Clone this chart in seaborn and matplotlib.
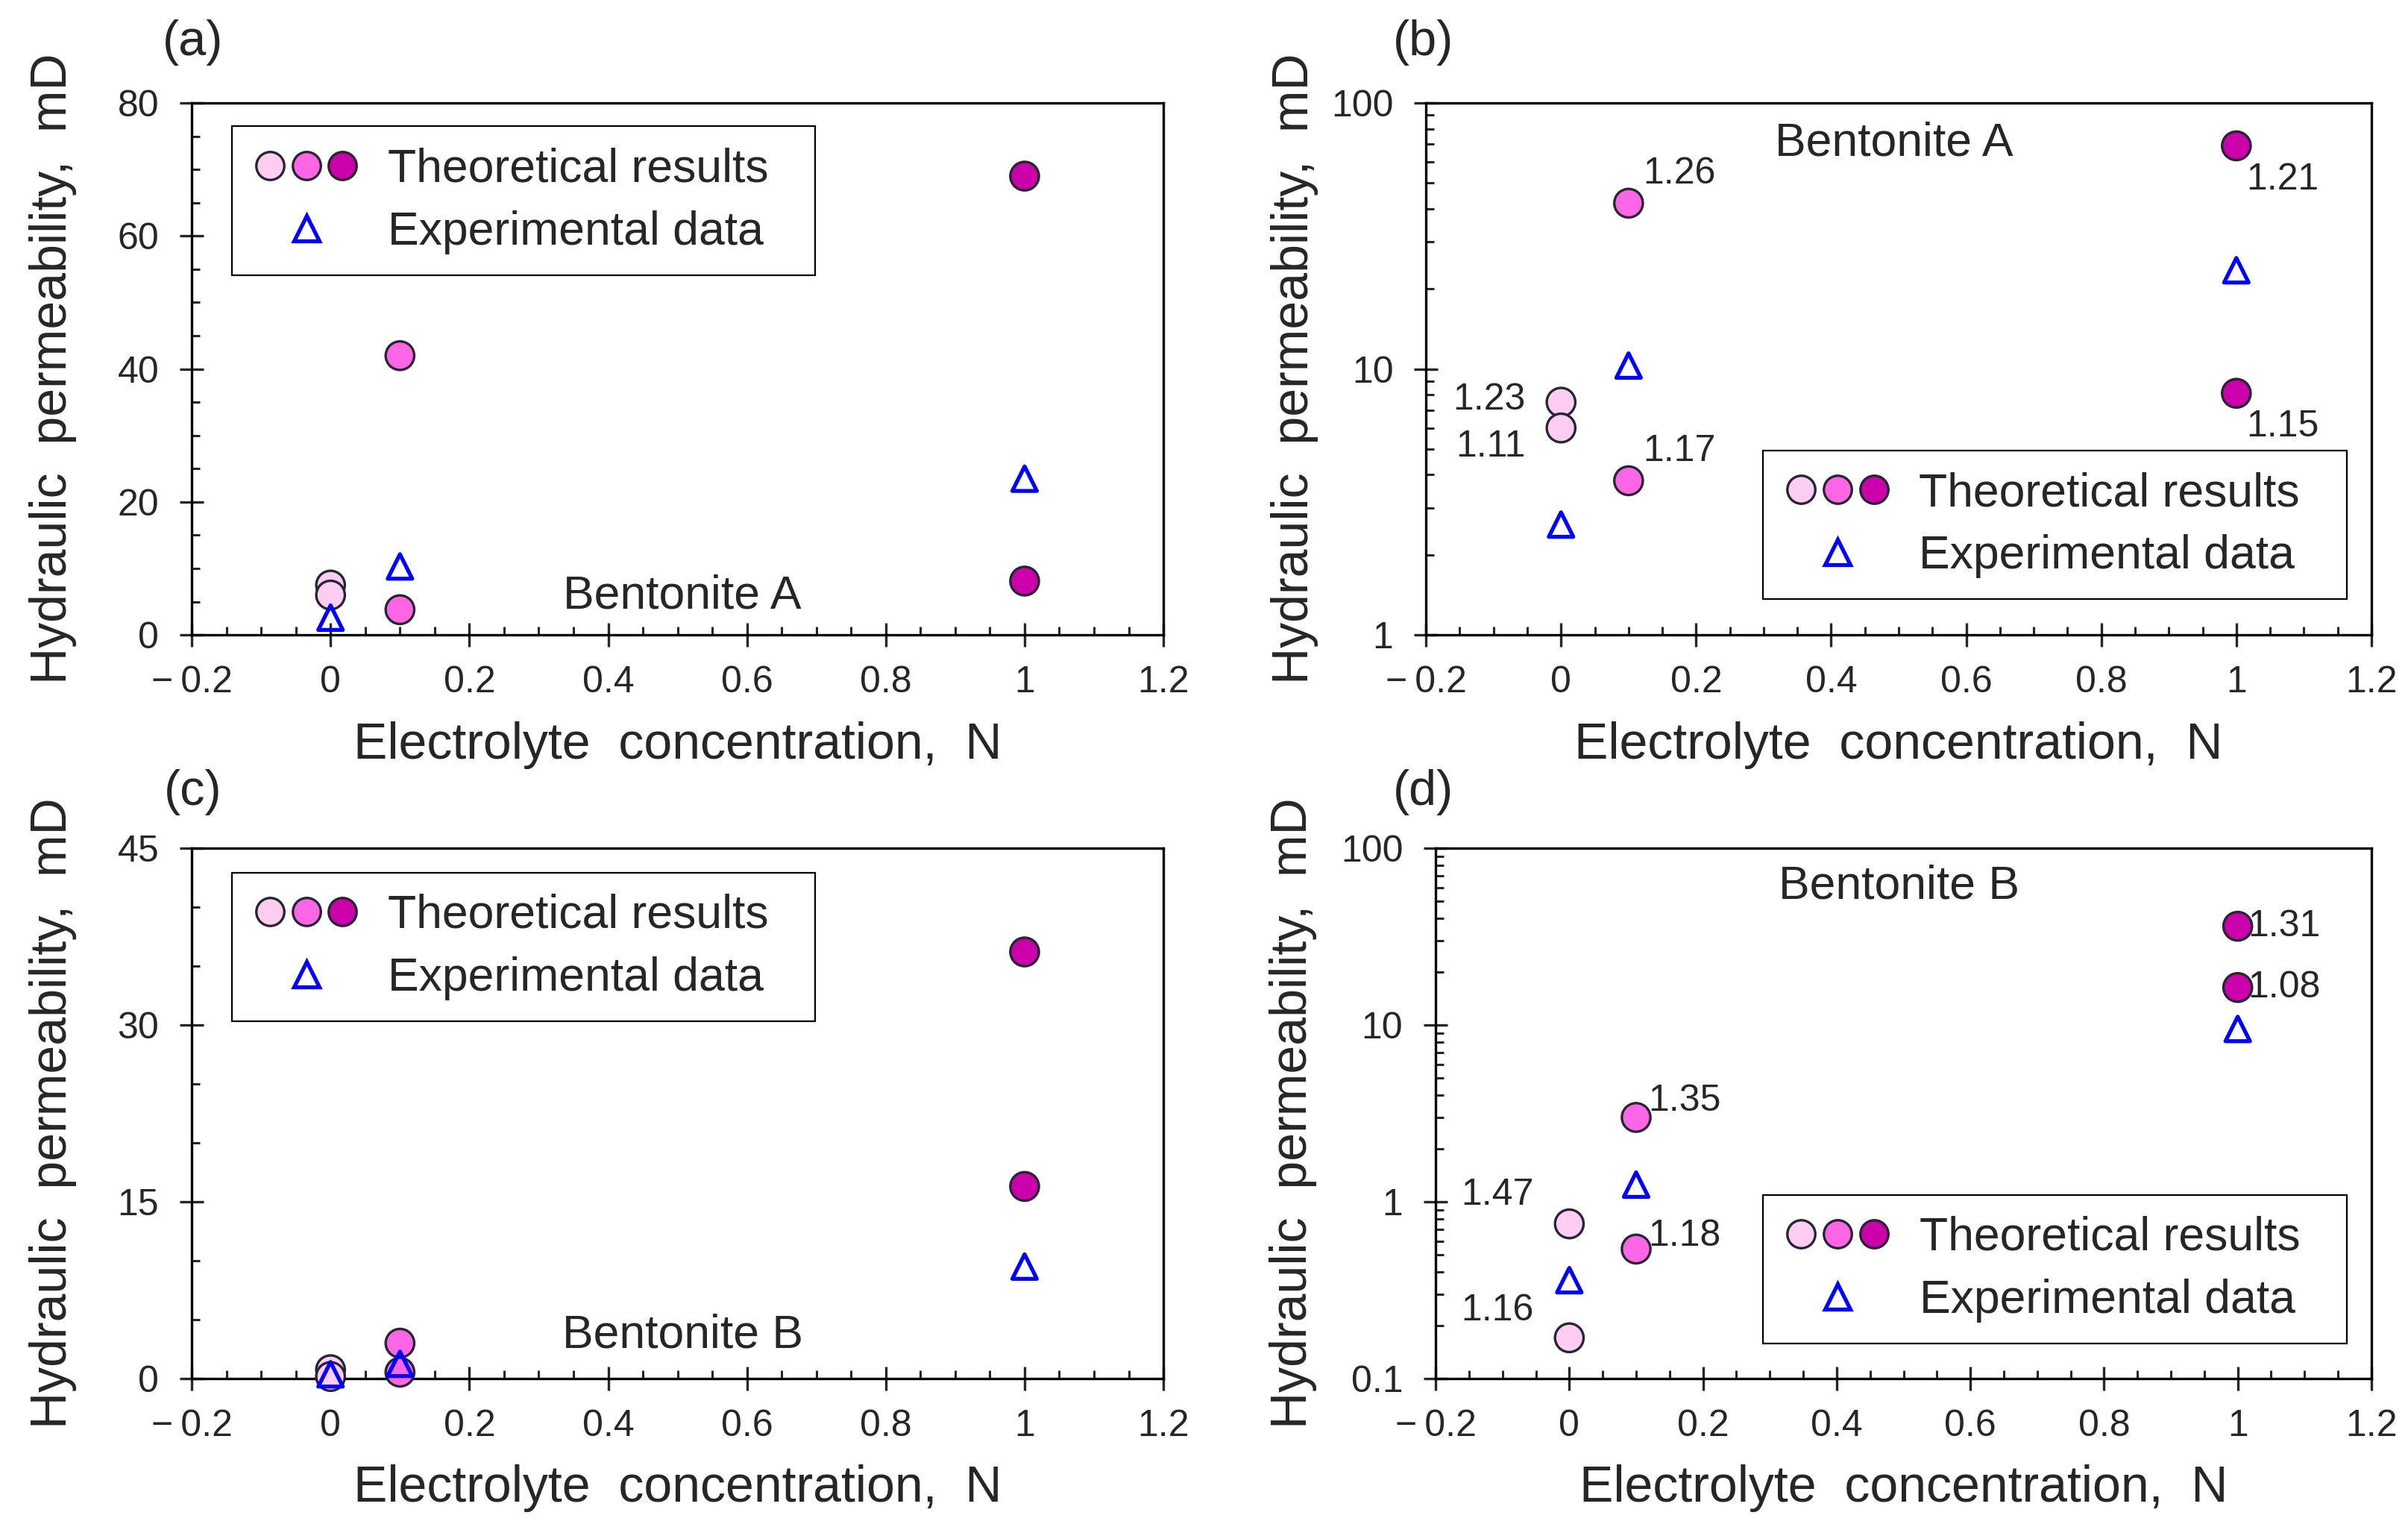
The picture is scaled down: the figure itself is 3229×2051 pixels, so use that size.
import numpy as np
import pandas as pd
import seaborn as sns
import matplotlib.pyplot as plt
from matplotlib.lines import Line2D
from matplotlib.legend_handler import HandlerTuple
from matplotlib.ticker import MultipleLocator, LogLocator, FuncFormatter

sns.set_style("white")
plt.rcParams['font.family'] = ['Liberation Sans', 'DejaVu Sans']

# electrolyte concentrations (N)
conc = [0.0, 0.0, 0.1, 0.1, 1.0, 1.0]
conc_exp = [0.0, 0.1, 1.0]

# bentonite A: theoretical results and exponent labels
theory_A = [7.5, 6.0, 42.0, 3.8, 69.0, 8.1]
labels_A = ['1.23', '1.11', '1.26', '1.17', '1.21', '1.15']
exp_A = [2.6, 10.3, 23.5]

# bentonite B
theory_B = [0.75, 0.17, 3.0, 0.54, 36.2, 16.3]
labels_B = ['1.47', '1.16', '1.35', '1.18', '1.31', '1.08']
exp_B = [0.36, 1.25, 9.5]

colors = {0.0: '#FFCCF2', 0.1: '#FF66E6', 1.0: '#CC00AA'}
edge = '#262633'
tri_color = '#0000FF'

# label offsets (points) for the log panels
offs_A = [(-34, 2), (-34, -2), (14, 12), (14, 12), (10, -16), (10, -16)]
va_A = ['center', 'top', 'bottom', 'bottom', 'top', 'top']
ha_A = ['right', 'right', 'left', 'left', 'left', 'left']
offs_B = [(-34, 28), (-34, 26), (12, -1), (12, -4), (10, 0), (10, 0)]
va_B = ['center', 'center', 'bottom', 'bottom', 'center', 'center']
ha_B = ['right', 'right', 'left', 'left', 'left', 'left']

fig = plt.figure(figsize=(32.3, 20.51), dpi=100)
pos = {'a': [0.0796, 0.585, 0.4034, 0.3477],
       'b': [0.592, 0.585, 0.3925, 0.3477],
       'c': [0.0796, 0.099, 0.4034, 0.3466],
       'd': [0.596, 0.099, 0.3885, 0.3466]}


def draw(key, theory, expd, logy, ylim, ystep=None, labels=None, offs=None, has=None, vas=None,
         bent='', bent_xy=(0.5, 0.07), leg_loc='upper left', leg_anchor=(0.04, 0.956), ylab_x=-0.118):
    ax = fig.add_axes(pos[key])
    df = pd.DataFrame({'x': conc, 'y': theory})
    sns.scatterplot(data=df, x='x', y='y', hue='x', palette=colors, s=760,
                    edgecolor=edge, linewidth=2.4, legend=False, ax=ax, zorder=4,
                    clip_on=False)
    de = pd.DataFrame({'x': conc_exp, 'y': expd})
    sns.scatterplot(data=de, x='x', y='y', marker='^', s=560, facecolor='none',
                    edgecolor=tri_color, linewidth=3.8, ax=ax, zorder=5, clip_on=False)
    if logy:
        ax.set_yscale('log')
        ax.yaxis.set_major_locator(LogLocator(base=10))
        ax.yaxis.set_minor_locator(LogLocator(base=10, subs=np.arange(2, 10)))
        ax.yaxis.set_major_formatter(FuncFormatter(lambda v, p: f'{v:g}'))
        ax.yaxis.set_minor_formatter(FuncFormatter(lambda v, p: ''))
        for xv, yv, t, o, h, va in zip(conc, theory, labels, offs, has, vas):
            ax.annotate(t, (xv, yv), xytext=o, textcoords='offset points',
                        ha=h, va=va, fontsize=36)
    else:
        ax.yaxis.set_major_locator(MultipleLocator(ystep))
        ax.yaxis.set_minor_locator(MultipleLocator(5))
    ax.set_ylim(*ylim)
    ax.set_xlim(-0.2, 1.2)
    ax.xaxis.set_major_locator(MultipleLocator(0.2))
    ax.xaxis.set_minor_locator(MultipleLocator(0.05))
    ax.xaxis.set_major_formatter(FuncFormatter(lambda v, p: f'{v:g}'.replace('-', '\u2212\u2009')))
    ax.tick_params(which='major', direction='inout', length=23, width=2.4,
                   labelsize=36, pad=18, bottom=True, left=True, top=False, right=False)
    ax.tick_params(which='minor', direction='in', length=8, width=2.2,
                   bottom=True, left=True, top=False, right=False)
    ax.tick_params(axis='y', which='major', pad=20)
    for s in ax.spines.values():
        s.set_linewidth(2.4)
        s.set_color('black')
    ax.set_xlabel('Electrolyte  concentration,  N', fontsize=49)
    ax.set_ylabel('Hydraulic  permeability,  mD', fontsize=49)
    ax.xaxis.set_label_coords(0.5, -0.162)
    ax.yaxis.set_label_coords(ylab_x, 0.5)
    ax.text(*bent_xy, bent, transform=ax.transAxes, ha='center', va='center', fontsize=45)

    circles = tuple(Line2D([], [], ls='none', marker='o', markersize=27,
                           markerfacecolor=colors[c], markeredgecolor=edge,
                           markeredgewidth=2.4) for c in [0.0, 0.1, 1.0])
    tri = Line2D([], [], ls='none', marker='^', markersize=24, markerfacecolor='none',
                 markeredgecolor=tri_color, markeredgewidth=3.8)
    leg = ax.legend([circles, tri], ['Theoretical results  ', 'Experimental data'],
                    handler_map={tuple: HandlerTuple(ndivide=None, pad=0.05)},
                    loc=leg_loc, bbox_to_anchor=leg_anchor, fontsize=45,
                    handlelength=2.3, handletextpad=0.6, borderpad=0.45,
                    labelspacing=0.4, fancybox=False, framealpha=1,
                    edgecolor='black', borderaxespad=0)
    leg.get_frame().set_linewidth(1.6)
    return ax


draw('a', theory_A, exp_A, False, (0, 80), ystep=20, bent='Bentonite A', bent_xy=(0.505, 0.073),
     leg_loc='upper left', leg_anchor=(0.041, 0.956))
draw('b', theory_A, exp_A, True, (1, 100), labels=labels_A, offs=offs_A, has=ha_A, vas=va_A,
     bent='Bentonite A', bent_xy=(0.495, 0.924), leg_loc='lower right', leg_anchor=(0.974, 0.067),
     ylab_x=-0.114)
draw('c', theory_B, exp_B, False, (0, 45), ystep=15, bent='Bentonite B', bent_xy=(0.505, 0.081),
     leg_loc='upper left', leg_anchor=(0.041, 0.954))
draw('d', theory_B, exp_B, True, (0.1, 100), labels=labels_B, offs=offs_B, has=ha_B, vas=va_B,
     bent='Bentonite B', bent_xy=(0.495, 0.928), leg_loc='lower right', leg_anchor=(0.974, 0.066),
     ylab_x=-0.127)

for letter, fx, fy in [('(a)', 0.080, 0.972), ('(b)', 0.591, 0.972),
                       ('(c)', 0.080, 0.482), ('(d)', 0.591, 0.482)]:
    fig.text(fx, fy, letter, ha='center', va='center', fontsize=48)

fig.savefig('out.png', dpi=100)
